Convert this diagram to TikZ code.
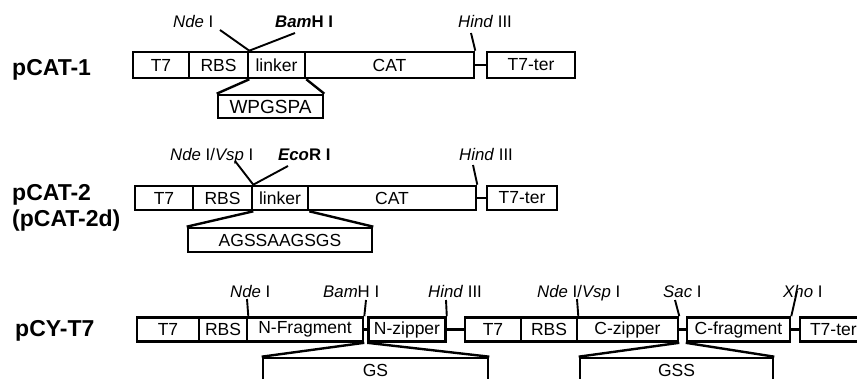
\documentclass[tikz,border=0pt]{standalone}
\usepackage{fontspec}
\setmainfont{Liberation Sans}
\begin{document}
\begin{tikzpicture}[x=1pt,y=-1pt,
  seg/.style={draw, line width=2.6pt, inner sep=0pt, font=\fontsize{17.5}{17.5}\selectfont},
  btext/.style={inner sep=0pt, font=\fontsize{17.5}{17.5}\selectfont},
  site/.style={font=\fontsize{16.8}{17}\selectfont, inner sep=0pt, anchor=base west},
  plasmid/.style={font=\fontsize{23}{23}\selectfont\bfseries, inner sep=0pt, anchor=base west},
  sline/.style={line width=1.9pt},
  link/.style={line width=2.4pt},
  trap/.style={line width=2.4pt}]
\useasboundingbox (0,0) rectangle (857,379);
\clip (0,0) rectangle (857,379);

% ---------- pCAT-1 ----------
\node[plasmid] (p1) at (12,76) {pCAT-1};
\node[seg, minimum width=56pt, minimum height=26pt] (t71) at (161,65) {T7};
\node[seg, minimum width=59pt, minimum height=26pt] (rbs1) at (218.5,65) {RBS};
\node[seg, minimum width=57pt, minimum height=26pt] (lnk1) at (276.5,65) {linker};
\node[seg, minimum width=169pt, minimum height=26pt] (cat1) at (389.5,65) {CAT};
\node[seg, minimum width=88pt, minimum height=26pt] (ter1) at (531,65) {T7-ter};
\draw[link] (cat1.east) -- (ter1.west);

\node[site] (nde1) at (173,28) {\textit{Nde} I};
\node[site] (bam1) at (275,28) {\textbf{\textit{Bam}H I}};
\node[site] (hind1) at (458,28) {\textit{Hind} III};
\coordinate (nde1e) at (220,30);
\coordinate (bam1e) at (295,33);
\coordinate (hind1e) at (471,33);
\draw[sline] (nde1e) -- (rbs1.north east);
\draw[sline] (bam1e) -- (rbs1.north east);
\draw[sline] (hind1e) -- (cat1.north east);

\node[seg, minimum width=105pt, minimum height=23pt, font=\fontsize{19}{19}\selectfont] (wp) at (270.5,106.5) {WPGSPA};
\draw[trap] (rbs1.south east) -- (wp.north west);
\draw[trap] (lnk1.south east) -- (wp.north east);

% ---------- pCAT-2 ----------
\node[plasmid] (p2) at (12,201) {pCAT-2};
\node[plasmid] (p2d) at (12,227) {(pCAT-2d)};
\node[seg, minimum width=58pt, minimum height=24pt] (t72) at (164,198) {T7};
\node[seg, minimum width=59pt, minimum height=24pt] (rbs2) at (222.5,198) {RBS};
\node[seg, minimum width=56pt, minimum height=24pt] (lnk2) at (280,198) {linker};
\node[seg, minimum width=168pt, minimum height=24pt] (cat2) at (392,198) {CAT};
\node[seg, minimum width=70pt, minimum height=24pt] (ter2) at (522,198) {T7-ter};
\draw[link] (cat2.east) -- (ter2.west);

\node[site] (nde2) at (170,161) {\textit{Nde} I/\textit{Vsp} I};
\node[site] (eco2) at (278,161) {\textbf{\textit{Eco}R I}};
\node[site] (hind2) at (459,161) {\textit{Hind} III};
\coordinate (nde2e) at (235,161);
\coordinate (eco2e) at (288,166);
\coordinate (hind2e) at (473,165);
\draw[sline] (nde2e) -- (rbs2.north east);
\draw[sline] (eco2e) -- (rbs2.north east);
\draw[sline] (hind2e) -- (cat2.north east);

\node[seg, minimum width=184pt, minimum height=24pt] (ag) at (280,240) {AGSSAAGSGS};
\draw[trap] (rbs2.south east) -- (ag.north west);
\draw[trap] (lnk2.south east) -- (ag.north east);

% ---------- pCY-T7 ----------
\node[plasmid] (p3) at (15,337) {pCY-T7};
\node[seg, minimum width=62pt, minimum height=24pt] (t73) at (168,329.5) {T7};
\node[seg, minimum width=48pt, minimum height=24pt] (rbs3) at (223,329.5) {RBS};
\node[seg, minimum width=116pt, minimum height=24pt] (nfr) at (305,329.5) {N-Fragment};
\node[seg, minimum width=77pt, minimum height=24pt] (nzp) at (407,329.5) {N-zipper};
\node[seg, minimum width=56pt, minimum height=24pt] (t7b) at (493,329.5) {T7};
\node[seg, minimum width=56pt, minimum height=24pt] (rbsb) at (549,329.5) {RBS};
\node[seg, minimum width=101pt, minimum height=24pt] (czp) at (627.5,329.5) {C-zipper};
\node[seg, minimum width=103pt, minimum height=24pt] (cfr) at (738.5,329.5) {C-fragment};
\node[seg, minimum width=80pt, minimum height=24pt, text width=60pt] (ter3) at (840,329.5) {T7-ter};
\draw[link] (nfr.east) -- (nzp.west);
\draw[link] (nzp.east) -- (t7b.west);
\draw[link] (czp.east) -- (cfr.west);
\draw[link] (cfr.east) -- (ter3.west);

\node[site] (nde3) at (230,298) {\textit{Nde} I};
\node[site] (bam3) at (323,298) {\textit{Bam}H I};
\node[site] (hind3) at (428,298) {\textit{Hind} III};
\node[site] (ndv3) at (537,298) {\textit{Nde} I/\textit{Vsp} I};
\node[site] (sac3) at (663,298) {\textit{Sac} I};
\node[site] (xho3) at (783,298) {\textit{Xho} I};
\coordinate (nde3e) at (247,299);
\coordinate (bam3e) at (366,300);
\coordinate (hind3e) at (446,300);
\coordinate (ndv3e) at (577,299);
\coordinate (sac3e) at (675,300);
\coordinate (xho3e) at (797,291);
\draw[sline] (nde3e) -- (rbs3.north east);
\draw[sline] (bam3e) -- (nfr.north east);
\draw[sline] (hind3e) -- (nzp.north east);
\draw[sline] (ndv3e) -- (rbsb.north east);
\draw[sline] (sac3e) -- (czp.north east);
\draw[sline] (xho3e) -- (cfr.north east);

\node[seg, minimum width=225pt, minimum height=44pt] (gs) at (375.5,380) {};
\node[btext] (gst) at (375.5,370) {GS};
\draw[trap] (nfr.south east) -- (gs.north west);
\draw[trap] (nzp.south west) -- (gs.north east);

\node[seg, minimum width=193pt, minimum height=44pt] (gss) at (676.5,380) {};
\node[btext] (gsst) at (676.5,370) {GSS};
\draw[trap] (czp.south east) -- (gss.north west);
\draw[trap] (cfr.south west) -- (gss.north east);
\end{tikzpicture}
\end{document}
